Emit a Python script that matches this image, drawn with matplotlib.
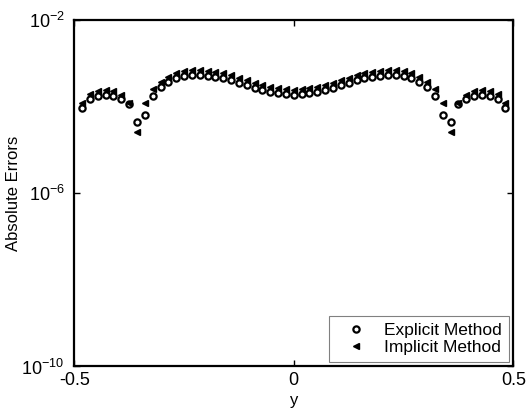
"""
absolute errors of explicit and implicit schemes, log scale
"""
import matplotlib
matplotlib.use('Agg')
import matplotlib.pyplot as plt

plt.rcParams['font.family'] = ['Liberation Sans', 'DejaVu Sans']
plt.rcParams['mathtext.fontset'] = 'custom'
plt.rcParams['mathtext.rm'] = 'Liberation Sans'
plt.rcParams['mathtext.default'] = 'regular'

# grid points
y_pts = [-0.4821, -0.4643, -0.4464, -0.4286, -0.4107, -0.3929, -0.3750,
         -0.3571, -0.3393, -0.3214, -0.3036, -0.2857, -0.2679, -0.2500,
         -0.2321, -0.2143, -0.1964, -0.1786, -0.1607, -0.1429, -0.1250,
         -0.1071, -0.0893, -0.0714, -0.0536, -0.0357, -0.0179, 0.0,
         0.0179, 0.0357, 0.0536, 0.0714, 0.0893, 0.1071, 0.1250,
         0.1429, 0.1607, 0.1786, 0.1964, 0.2143, 0.2321, 0.2500,
         0.2679, 0.2857, 0.3036, 0.3214, 0.3393, 0.3571, 0.3750,
         0.3929, 0.4107, 0.4286, 0.4464, 0.4643, 0.4821]

explicit_err = [9.25e-5, 1.49e-4, 1.74e-4, 1.85e-4, 1.74e-4, 1.49e-4, 1.15e-4,
                4.50e-5, 6.37e-5, 1.80e-4, 2.82e-4, 3.69e-4, 4.54e-4, 5.06e-4,
                5.34e-4, 5.34e-4, 5.20e-4, 4.93e-4, 4.54e-4, 4.08e-4, 3.57e-4,
                3.13e-4, 2.76e-4, 2.47e-4, 2.22e-4, 2.05e-4, 1.96e-4, 1.90e-4,
                1.96e-4, 2.05e-4, 2.22e-4, 2.47e-4, 2.76e-4, 3.13e-4, 3.57e-4,
                4.08e-4, 4.54e-4, 4.93e-4, 5.20e-4, 5.34e-4, 5.34e-4, 5.06e-4,
                4.54e-4, 3.69e-4, 2.82e-4, 1.80e-4, 6.37e-5, 4.50e-5, 1.15e-4,
                1.49e-4, 1.74e-4, 1.85e-4, 1.74e-4, 1.49e-4, 9.25e-5]

implicit_err = [1.21e-4, 1.96e-4, 2.28e-4, 2.40e-4, 2.28e-4, 1.85e-4, 1.21e-4,
                2.62e-5, 1.21e-4, 2.53e-4, 3.69e-4, 4.80e-4, 5.95e-4, 6.61e-4,
                6.97e-4, 6.97e-4, 6.81e-4, 6.45e-4, 5.95e-4, 5.34e-4, 4.67e-4,
                4.08e-4, 3.57e-4, 3.24e-4, 2.89e-4, 2.69e-4, 2.53e-4, 2.47e-4,
                2.53e-4, 2.69e-4, 2.89e-4, 3.24e-4, 3.57e-4, 4.08e-4, 4.67e-4,
                5.34e-4, 5.95e-4, 6.45e-4, 6.81e-4, 6.97e-4, 6.97e-4, 6.61e-4,
                5.95e-4, 4.80e-4, 3.69e-4, 2.53e-4, 1.21e-4, 2.62e-5, 1.21e-4,
                1.85e-4, 2.28e-4, 2.40e-4, 2.28e-4, 1.96e-4, 1.21e-4]

x_ticks = [-0.5, 0, 0.5]
x_ticklabels = ['-0.5', '0', '0.5']
y_ticks = [1e-10, 1e-6, 1e-2]
y_ticklabels = ['$10^{-10}$', '$10^{-6}$', '$10^{-2}$']

fig = plt.figure(figsize=(5.28, 4.11), dpi=100)
ax = fig.add_axes((0.1407, 0.1083, 0.8314, 0.843))

ax.semilogy(y_pts, explicit_err, 'o', ms=4.5, mfc='white', mec='black',
            mew=1.6, ls='none', label='Explicit Method')
ax.semilogy(y_pts, implicit_err, '<', ms=5, mfc='black', mec='black',
            mew=1, ls='none', label='Implicit Method')

ax.set_xlim(-0.5, 0.5)
ax.set_ylim(1e-10, 1e-2)
ax.set_xticks(x_ticks)
ax.set_xticklabels(x_ticklabels)
ax.set_yticks(y_ticks)
ax.set_yticklabels(y_ticklabels)
ax.minorticks_off()
ax.tick_params(direction='in', length=4, width=1, labelsize=13,
               top=True, right=True)
ax.tick_params(axis='x', pad=4)
ax.tick_params(axis='y', pad=7)
for s in ax.spines.values():
    s.set_linewidth(1.6)

ax.set_xlabel('y', fontsize=12, labelpad=3)
ax.set_ylabel('Absolute Errors', fontsize=12, labelpad=0)

leg = ax.legend(loc='lower right', fontsize=12.5, fancybox=False,
                framealpha=1, edgecolor='0.5', borderaxespad=0.25,
                handlelength=2.3, handletextpad=0.5, labelspacing=0.1,
                borderpad=0.4)
leg.get_frame().set_linewidth(0.8)

fig.savefig('out.png', dpi=100)
